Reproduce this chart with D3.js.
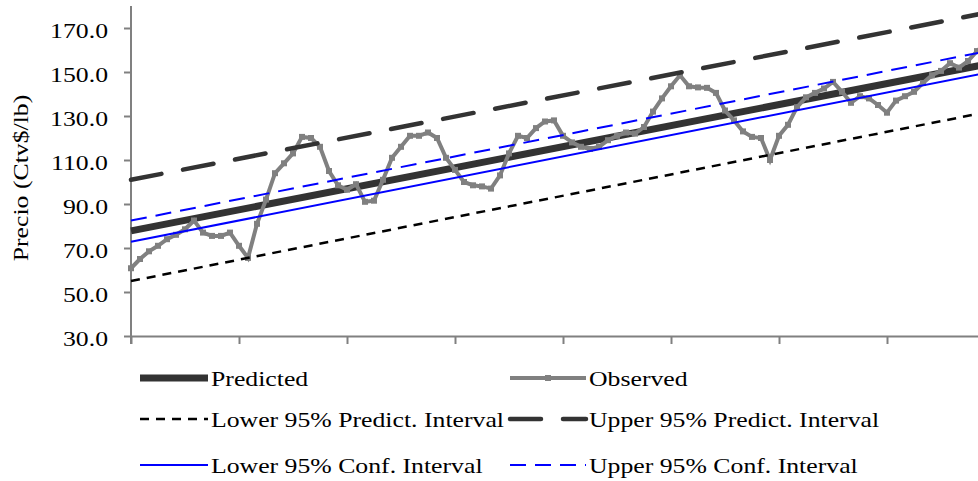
<!DOCTYPE html>
<html>
<head>
<meta charset="utf-8">
<script src="https://cdn.jsdelivr.net/npm/d3@7"></script>
<style>
body{margin:0;background:#fff}
svg{display:block}
text{font-family:"Liberation Serif","Times New Roman",serif;fill:#000}
</style>
</head>
<body>
<div id="chart"></div>
<script>
// monthly observed prices (Ctv$/lb)
var observed = [60.8,65,68.5,71,74,76,78.5,82.5,77,75.5,75.5,77,
                71,65.5,81,92,104,108.5,113,120.5,120,116,105,98.5,
                96.5,99,91,91.5,101,111,116,121,121,122.5,120,111,
                105.5,100,98.5,98,97,103,113,121,120,124.5,127.5,128,
                121,118,116,115,116,119,121,122.5,122,125,132,138,
                143.5,148.5,143.5,143,142.8,140.5,132.5,128,123,120.5,120,110,
                121,126,134,138.5,140.5,142.5,145.5,141,136,139,138,135,
                131.5,137,139,141,145,148.5,150.5,154,152,155,159.5,163]
var yearTicks = [0,12,24,36,48,60,72,84]
var yTicks = [30,50,70,90,110,130,150,170]
// straight fitted lines: values at first and last month
var lineEnds = [0,95]
var predicted = [77.8,153.5]
var lowerPI = [55.0,131.7]
var upperPI = [101.0,176.9]
var lowerCI = [72.8,149.6]
var upperCI = [82.5,159.4]
var legendNames = ['Predicted','Observed','Lower 95% Predict. Interval','Upper 95% Predict. Interval','Lower 95% Conf. Interval','Upper 95% Conf. Interval']

var W = 978, H = 481
var stretch = 'scale(1.17,1)'
var svg = d3.select('#chart').append('svg').attr('width', W).attr('height', H)

var x = d3.scaleLinear().domain([0,96]).range([131,995])
var y = d3.scaleLinear().domain([30,180]).range([336,6])

var styles = {
    'Predicted': {stroke:'#333', width:7, dash:null, cap:'butt'},
    'Observed': {stroke:'#808080', width:4, dash:null, cap:'butt', marker:true},
    'Lower 95% Predict. Interval': {stroke:'#000', width:2.5, dash:'9,7', cap:'butt'},
    'Upper 95% Predict. Interval': {stroke:'#333', width:4.5, dash:'31,22', cap:'round'},
    'Lower 95% Conf. Interval': {stroke:'#0000ff', width:2, dash:null, cap:'butt'},
    'Upper 95% Conf. Interval': {stroke:'#0000ff', width:2, dash:'16,9', cap:'butt'}
}

// axes
var yAxis = svg.append('g').attr('transform','translate(131,0)').attr('color','#808080')
    .call(d3.axisLeft(y).tickValues(yTicks).tickSize(7).tickSizeOuter(0).tickFormat(d3.format('.1f')))
yAxis.select('.domain').attr('stroke-width',2).attr('d','M0,6V344')
yAxis.selectAll('line').attr('stroke-width',2)
yAxis.selectAll('text').attr('x',null).attr('dy',null)
    .attr('transform','translate(-23,9) '+stretch)
    .attr('font-size',22).attr('fill','#000')
    .style('font-family','"Liberation Serif",serif')

var xAxis = svg.append('g').attr('transform','translate(0,336)').attr('color','#808080')
    .call(d3.axisBottom(x).tickValues(yearTicks).tickSize(8).tickSizeOuter(0).tickFormat(''))
xAxis.select('.domain').attr('stroke-width',2)
xAxis.selectAll('line').attr('stroke-width',2)

svg.append('text')
    .attr('transform','translate(28,178) rotate(-90) '+stretch)
    .attr('text-anchor','middle').attr('font-size',22)
    .text('Precio (Ctv$/lb)')

// series
var line = d3.line().x(d => x(d[0])).y(d => y(d[1]))
function drawLine(name, values, idx){
    var s = styles[name]
    var pts = values.map((v,i) => [idx ? idx[i] : i, v])
    svg.append('path').datum(pts)
        .attr('d', line)
        .attr('fill','none')
        .attr('stroke', s.stroke)
        .attr('stroke-width', s.width)
        .attr('stroke-dasharray', s.dash)
        .attr('stroke-linecap', s.cap)
    if (s.marker) {
        svg.append('g').selectAll('rect').data(pts).enter().append('rect')
            .attr('x', d => x(d[0]) - 3).attr('y', d => y(d[1]) - 3)
            .attr('width',6).attr('height',6).attr('fill', s.stroke)
    }
}
drawLine('Predicted', predicted, lineEnds)
drawLine('Observed', observed)
drawLine('Lower 95% Predict. Interval', lowerPI, lineEnds)
drawLine('Upper 95% Predict. Interval', upperPI, lineEnds)
drawLine('Lower 95% Conf. Interval', lowerCI, lineEnds)
drawLine('Upper 95% Conf. Interval', upperCI, lineEnds)

// legend
var colX = [140, 510], colLen = [68, 76], rowY = [378, 419, 465]
legendNames.forEach(function(name, i){
    var s = styles[name]
    var cx = colX[i % 2], len = colLen[i % 2], ry = rowY[Math.floor(i / 2)]
    svg.append('line')
        .attr('x1', cx).attr('x2', cx + len).attr('y1', ry).attr('y2', ry)
        .attr('stroke', s.stroke).attr('stroke-width', s.width)
        .attr('stroke-dasharray', s.dash).attr('stroke-linecap', s.cap)
    if (s.marker) {
        svg.append('rect').attr('x', cx + len/2 - 3).attr('y', ry - 3)
            .attr('width',6).attr('height',6).attr('fill', s.stroke)
    }
    svg.append('text')
        .attr('transform','translate(' + (cx + len + 3) + ',' + (ry + 7.5) + ') ' + stretch)
        .attr('font-size',22)
        .text(name)
})
</script>
</body>
</html>
